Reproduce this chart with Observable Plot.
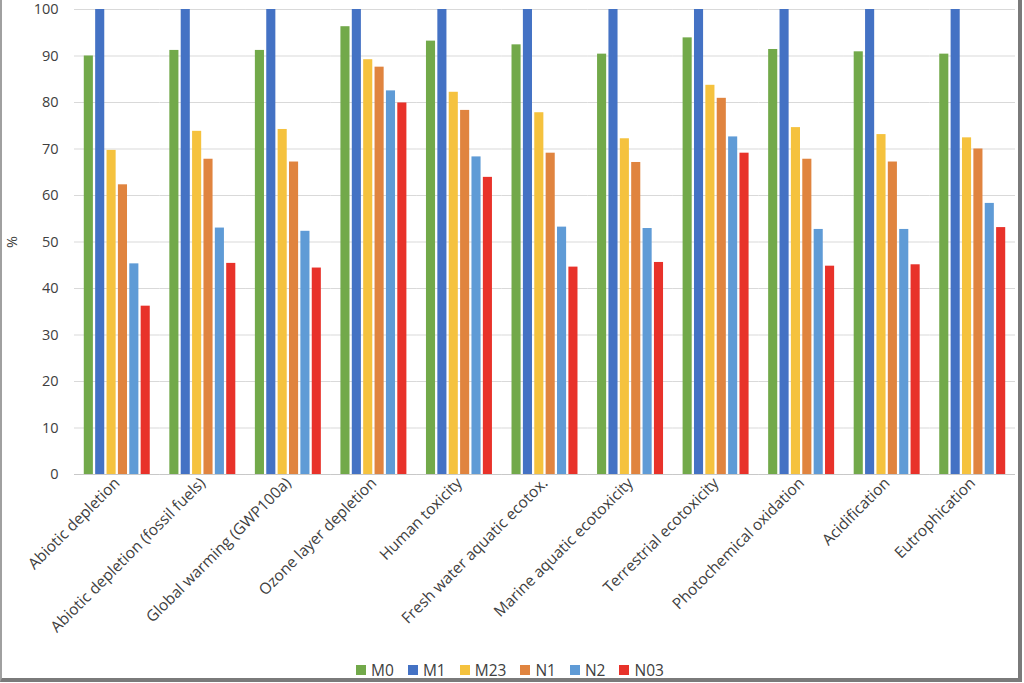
<!DOCTYPE html>
<html>
<head>
<meta charset="utf-8">
<script src="https://cdn.jsdelivr.net/npm/d3@7"></script>
<script src="https://cdn.jsdelivr.net/npm/@observablehq/plot@0.6"></script>
<style>
  html, body { margin: 0; padding: 0; background: #fff; }
  #wrap { width: 1016px; height: 678px; border-left: 2px solid #a0a0a0; border-right: 4px solid #7a7a7a; border-bottom: 4px solid #7a7a7a; box-sizing: content-box; position: relative; font-family: "Open Sans", sans-serif; }
  #legend { position: absolute; left: 0; width: 1016px; top: 659px; display: flex; justify-content: center; gap: 14px; font-size: 15.5px; color: #404040; }
  #legend span.item { display: flex; align-items: center; gap: 5px; }
  #legend span.sw { width: 10px; height: 10px; display: inline-block; }
</style>
</head>
<body>
<div id="wrap"><div id="chart"></div><div id="legend"></div></div>
<script>
const categories = ["Abiotic depletion", "Abiotic depletion (fossil fuels)", "Global warming (GWP100a)", "Ozone layer depletion", "Human toxicity", "Fresh water aquatic ecotox.", "Marine aquatic ecotoxicity", "Terrestrial ecotoxicity", "Photochemical oxidation", "Acidification", "Eutrophication"];
const seriesNames = ["M0", "M1", "M23", "N1", "N2", "N03"];
const seriesColors = ["#72a94a", "#4472c4", "#f5c23e", "#e0843f", "#5f9bd6", "#e8322a"];
const M0  = [90.0, 91.2, 91.2, 96.3, 93.2, 92.4, 90.4, 93.9, 91.4, 90.9, 90.4];
const M1  = [100, 100, 100, 100, 100, 100, 100, 100, 100, 100, 100];
const M23 = [69.7, 73.8, 74.2, 89.2, 82.2, 77.8, 72.2, 83.7, 74.6, 73.1, 72.4];
const N1  = [62.3, 67.8, 67.2, 87.6, 78.3, 69.1, 67.1, 80.9, 67.8, 67.2, 70.0];
const N2  = [45.3, 53.0, 52.3, 82.5, 68.3, 53.2, 52.9, 72.6, 52.7, 52.7, 58.3];
const N03 = [36.2, 45.4, 44.4, 79.9, 63.9, 44.6, 45.6, 69.1, 44.8, 45.1, 53.1];
const yTicks = [0, 10, 20, 30, 40, 50, 60, 70, 80, 90, 100];

const seriesValues = [M0, M1, M23, N1, N2, N03];
const data = [];
categories.forEach((c, i) => {
  seriesNames.forEach((s, j) => data.push({cat: c, series: s, value: seriesValues[j][i]}));
});

const chart = Plot.plot({
  width: 1016,
  height: 651,
  marginLeft: 72,
  marginRight: 3,
  marginTop: 9,
  marginBottom: 177,
  style: {fontFamily: "'Open Sans', sans-serif", color: "#404040", background: "#fff"},
  fx: {domain: categories, paddingInner: 0, paddingOuter: 0, round: false, label: null},
  x: {domain: seriesNames, paddingInner: 0.2, paddingOuter: 0.86, round: false, axis: null},
  y: {domain: [0, 100]},
  color: {domain: seriesNames, range: seriesColors},
  marks: [
    Plot.gridY(yTicks, {stroke: "#d9d9d9", strokeOpacity: 1, strokeWidth: 1}),
    Plot.axisY(yTicks, {tickSize: 0, tickPadding: 16, fontSize: 14.5, label: "%", labelAnchor: "center", labelOffset: 68, labelArrow: "none"}),
    Plot.axisFx({anchor: "bottom", tickSize: 0, tickRotate: -45, textAnchor: "end", fontSize: 15.5, tickPadding: 6, label: null}),
    Plot.barY(data, {fx: "cat", x: "series", y: "value", fill: "series"}),
    Plot.ruleY([0], {stroke: "#c8c8c8", strokeWidth: 1.2})
  ]
});
document.getElementById("chart").appendChild(chart);

const legend = document.getElementById("legend");
seriesNames.forEach((s, i) => {
  const item = document.createElement("span");
  item.className = "item";
  const sw = document.createElement("span");
  sw.className = "sw";
  sw.style.background = seriesColors[i];
  item.appendChild(sw);
  item.appendChild(document.createTextNode(s));
  legend.appendChild(item);
});
</script>
</body>
</html>
